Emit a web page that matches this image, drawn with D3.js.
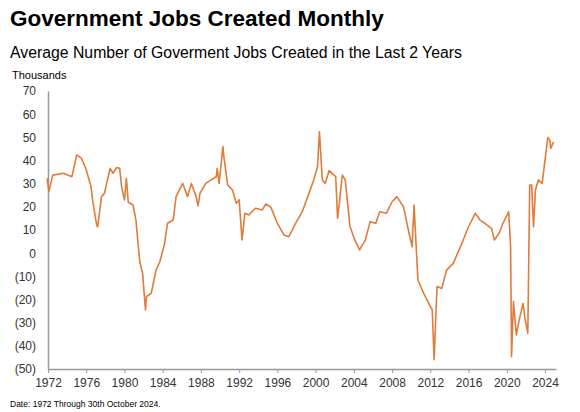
<!DOCTYPE html><html><head><meta charset="utf-8"><script src="https://cdn.jsdelivr.net/npm/d3@7"></script>
<style>body{margin:0;background:#fff;font-family:"Liberation Sans",Arial,sans-serif}</style></head><body><svg id="c" width="580" height="412"></svg>
<script>
const years=[1971.9,1972.1,1972.5,1973.6,1974.5,1975,1975.5,1976,1976.5,1976.7,1977.1,1977.2,1977.6,1977.9,1978.5,1978.8,1979.2,1979.5,1979.7,1980,1980.2,1980.4,1980.9,1981.2,1981.6,1981.9,1982.2,1982.3,1982.8,1983.3,1983.7,1984.2,1984.5,1985.1,1985.4,1986.1,1986.6,1987,1987.5,1987.7,1987.9,1988.5,1989.6,1989.7,1989.9,1990.3,1990.4,1990.8,1991.3,1991.7,1992,1992.3,1992.6,1993,1993.7,1994.4,1994.8,1995.3,1996,1996.7,1997.2,1997.9,1998.6,1999.3,1999.8,2000.2,2000.4,2000.7,2001,2001.4,2002.1,2002.3,2002.8,2003.1,2003.6,2004.1,2004.6,2005.2,2005.7,2006.3,2006.7,2007.4,2008,2008.5,2009.2,2009.7,2010.1,2010.3,2010.7,2011.3,2012,2012.2,2012.4,2012.7,2013.2,2013.7,2014.4,2015.3,2016,2016.7,2017.2,2017.7,2018.4,2018.7,2019.2,2019.6,2020.2,2020.4,2020.5,2020.7,2021,2021.3,2021.7,2021.9,2022.2,2022.4,2022.6,2022.8,2023,2023.3,2023.7,2024,2024.3,2024.5,2024.6,2024.9];
const values=[32.3,26.8,33.7,34.5,33,42.4,41,36,28.7,22,12,11.4,24.4,25.8,36.6,34.5,37,36.6,28.7,23,32.3,22,20.8,14.3,-3.7,-8.7,-24.5,-18.8,-17.3,-7.3,-3.7,4.2,12.9,14.3,24.4,30.1,24.4,30.1,24.4,20.4,25.8,30.1,33,36.6,30.1,46,41.7,29.4,27.3,21.5,23,5.7,17.2,16.5,19.4,18.6,21.2,20,12.9,7.8,7.1,12.9,17.9,25.8,31.6,37.3,52.4,31.6,30.1,35.6,33,15,33.7,31.6,11.4,5.7,1.4,5.7,13.6,12.9,17.9,17.2,22.2,24.4,20,10,2.8,20.8,-11.6,-17.3,-23,-24.5,-46,-14.4,-15.2,-7.3,-4.4,4.2,11.4,17.2,14.3,12.9,10.7,5.7,8.6,12.9,17.9,2.8,-44.7,-20.9,-35.3,-28.8,-21.7,-28.1,-34.6,29.4,29.4,11.4,27.3,31.6,30.1,40.2,50,48.8,45.2,48.1];
const xTicks=d3.range(1972,2025,4);
const yTicks=d3.range(-50,71,10);
const svg=d3.select("#c");
const x=d3.scaleLinear().domain([1972,2025.15]).range([48,556]);
const y=d3.scaleLinear().domain([-50,70]).range([369,91]);
svg.append("text").attr("x",10).attr("y",26).attr("font-size",22.5).attr("font-weight","bold").text("Government Jobs Created Monthly");
svg.append("text").attr("x",10).attr("y",58).attr("font-size",15.8).text("Average Number of Goverment Jobs Created in the Last 2 Years");
svg.append("text").attr("x",12).attr("y",79).attr("font-size",11).text("Thousands");
svg.append("text").attr("x",10).attr("y",407).attr("font-size",8.5).text("Date: 1972 Through 30th October 2024.");
const fmt=v=>v<0?"("+(-v)+")":String(v);
const ya=svg.append("g").attr("transform","translate(48,0)").call(d3.axisLeft(y).tickValues(yTicks).tickFormat(fmt).tickSize(0).tickPadding(12));
ya.select(".domain").attr("stroke","#999").attr("stroke-width",1.5);
ya.selectAll("text").attr("font-size",12).attr("fill","#333").attr("font-family","Liberation Sans");
const xa=svg.append("g").attr("transform","translate(0,369)").call(d3.axisBottom(x).tickValues(xTicks).tickFormat(d3.format("d")).tickSize(4).tickSizeOuter(0).tickPadding(5));
xa.select(".domain").attr("stroke","#999").attr("stroke-width",1.5);
xa.selectAll("line").attr("stroke","#999");
xa.selectAll("text").attr("font-size",12).attr("fill","#333").attr("font-family","Liberation Sans");
const data=years.map((d,i)=>[d,values[i]]);
svg.append("path").datum(data).attr("fill","none").attr("stroke","#E07B3A").attr("stroke-width",1.6).attr("stroke-linejoin","round")
 .attr("d",d3.line().x(d=>x(d[0])).y(d=>y(d[1])));
</script></body></html>
